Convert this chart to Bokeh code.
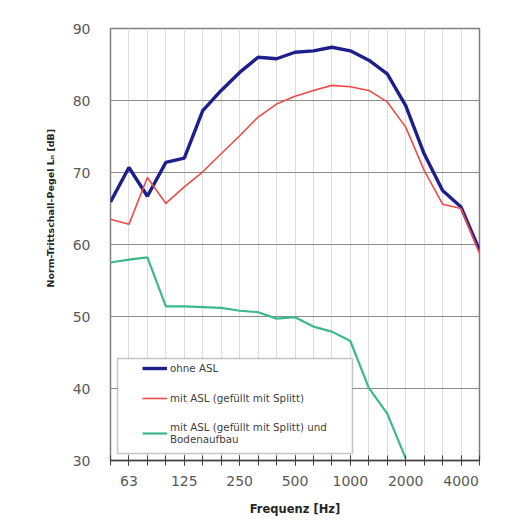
from bokeh.plotting import figure
from bokeh.models import (ColumnDataSource, Range1d, FixedTicker, Legend, LegendItem,
                          BoxAnnotation, Title)
from bokeh.embed import file_html
from bokeh.resources import INLINE

# ---- data -------------------------------------------------------------
bands = ["50", "63", "80", "100", "125", "160", "200", "250", "315", "400", "500",
         "630", "800", "1000", "1250", "1600", "2000", "2500", "3150", "4000", "5000"]
shown_labels = ["63", "125", "250", "500", "1000", "2000", "4000"]

ohne_asl = [65.9, 70.7, 66.7, 71.4, 72.0, 78.6, 81.4, 83.9, 86.0, 85.8, 86.7,
            86.9, 87.4, 86.9, 85.6, 83.7, 79.3, 72.6, 67.5, 65.2, 59.2]
mit_asl = [63.5, 62.8, 69.3, 65.7, 68.0, 70.1, 72.6, 75.1, 77.7, 79.5, 80.6,
           81.4, 82.1, 81.9, 81.4, 79.8, 76.3, 70.3, 65.6, 65.0, 58.8]
nan = float("nan")
mit_asl_boden = [57.5, 57.9, 58.2, 51.4, 51.4, 51.3, 51.2, 50.8, 50.6, 49.7, 49.9,
                 48.6, 47.9, 46.6, 40.1, 36.5, 30.3, nan, nan, nan, nan]

series_names = ["ohne ASL", "mit ASL (gefüllt mit Splitt)",
                "mit ASL (gefüllt mit Splitt) und\nBodenaufbau"]
y_ticks = [30, 40, 50, 60, 70, 80, 90]

FONT = "DejaVu Sans"

idx = list(range(len(bands)))
src = ColumnDataSource(dict(x=idx, a=ohne_asl, b=mit_asl, c=mit_asl_boden))

p = figure(width=511, height=525, output_backend="svg", toolbar_location=None,
           x_range=Range1d(0, len(bands) - 1), y_range=Range1d(y_ticks[0], y_ticks[-1]),
           min_border_left=110, min_border_right=32, min_border_top=28, min_border_bottom=65)
p.background_fill_color = "white"
p.border_fill_color = "white"
p.outline_line_color = "#7f7f7f"
p.outline_line_width = 1.5

# grids
p.xgrid.ticker = FixedTicker(ticks=idx)
p.xgrid.grid_line_color = "#dcdcdc"
p.xgrid.grid_line_width = 1
p.ygrid.ticker = FixedTicker(ticks=y_ticks)
p.ygrid.grid_line_color = "#8c8c8c"
p.ygrid.grid_line_width = 1

# x axis
label_idx = [i for i, b in enumerate(bands) if b in shown_labels]
p.xaxis.ticker = FixedTicker(ticks=label_idx, minor_ticks=idx)
p.xaxis.major_label_overrides = {i: bands[i] for i in label_idx}
p.xaxis.axis_line_color = "#404040"
p.xaxis.axis_line_width = 1.5
for a in p.xaxis:
    a.major_tick_in = 5
    a.major_tick_out = 5
    a.minor_tick_in = 5
    a.minor_tick_out = 5
p.xaxis.major_tick_line_color = "#404040"
p.xaxis.minor_tick_line_color = "#404040"
p.xaxis.major_label_text_font = FONT
p.xaxis.major_label_text_font_size = "14px"
p.xaxis.major_label_text_color = "#595959"
p.xaxis.major_label_standoff = 10
p.xaxis.axis_label = "Frequenz [Hz]"
p.xaxis.axis_label_text_font = FONT
p.xaxis.axis_label_text_font_style = "bold"
p.xaxis.axis_label_text_font_size = "11.5px"
p.xaxis.axis_label_text_color = "#262626"
p.xaxis.axis_label_standoff = 13

# y axis
p.yaxis.ticker = FixedTicker(ticks=y_ticks)
p.yaxis.axis_line_color = None
p.yaxis.major_tick_line_color = None
p.yaxis.minor_tick_line_color = None
p.yaxis.major_label_standoff = 14
p.yaxis.major_label_text_font = FONT
p.yaxis.major_label_text_font_size = "14px"
p.yaxis.major_label_text_color = "#595959"

# lines
r1 = p.line("x", "a", source=src, line_color="#1e1e8c", line_width=3.4)
r2 = p.line("x", "b", source=src, line_color="#ee4a4a", line_width=1.6)
r3 = p.line("x", "c", source=src, line_color="#3cb98a", line_width=2.2)

# y axis title (placed like the original, above centre)
ytitle = Title(text="Norm-Trittschall-Pegel Lₙ [dB]", align="left", offset=173,
               standoff=27, text_font=FONT, text_font_style="bold",
               text_font_size="9.5px", text_color="#262626")
p.add_layout(ytitle, "left")

# legend box + legend
box = BoxAnnotation(left=7, right=242, bottom=7, top=102,
                    left_units="screen", right_units="screen",
                    bottom_units="screen", top_units="screen",
                    fill_color="white", fill_alpha=1.0,
                    line_color="#404040", line_width=1.5)
p.add_layout(box)

legend = Legend(items=[LegendItem(label=series_names[0], renderers=[r1]),
                       LegendItem(label=series_names[1], renderers=[r2]),
                       LegendItem(label=series_names[2], renderers=[r3])],
                location=(32, 15), margin=0, padding=0,
                border_line_color=None, background_fill_alpha=0,
                glyph_width=25, glyph_height=14, label_height=14, spacing=16,
                label_standoff=3, label_text_font=FONT, label_text_font_size="10.3px",
                label_text_color="#404040")
p.add_layout(legend, "center")

open("out.html", "w").write(file_html(p, INLINE))
